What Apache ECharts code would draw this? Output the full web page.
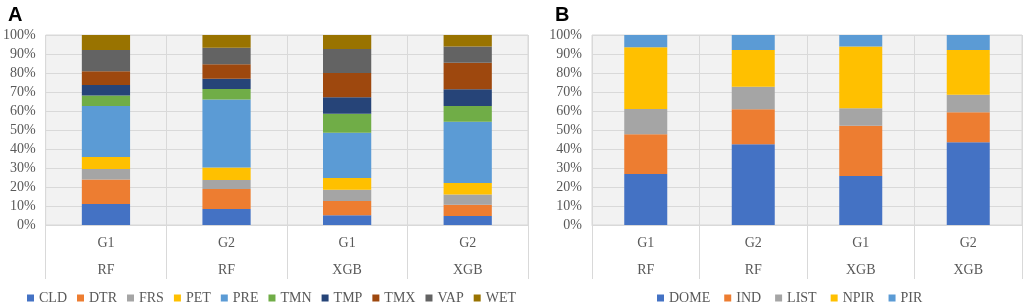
<!DOCTYPE html>
<html>
<head>
<meta charset="utf-8">
<script src="https://cdn.jsdelivr.net/npm/echarts@6/dist/echarts.min.js"></script>
<style>
  html, body { margin: 0; padding: 0; background: #fff; }
  #chart { width: 1024px; height: 305px; }
</style>
</head>
<body>
<div id="chart"></div>
<script>
// categories (two-level axis: group / model)
const groups = ['G1', 'G2', 'G1', 'G2'];
const models = ['RF', 'RF', 'XGB', 'XGB'];

// panel A - climate variables (%)
const varNames = ['CLD', 'DTR', 'FRS', 'PET', 'PRE', 'TMN', 'TMP', 'TMX', 'VAP', 'WET'];
const CLD = [11.0, 8.4, 5.1, 4.7];
const DTR = [13.0, 10.5, 7.5, 6.0];
const FRS = [5.5, 4.8, 6.0, 5.4];
const PET = [6.3, 6.5, 6.1, 6.0];
const PRE = [26.8, 35.8, 23.9, 32.3];
const TMN = [5.6, 5.6, 10.0, 8.2];
const TMP = [5.5, 5.4, 8.6, 8.8];
const TMX = [7.2, 7.6, 12.8, 14.0];
const VAP = [11.2, 8.7, 12.6, 8.5];
const WET = [7.9, 6.7, 7.4, 6.1];

// panel B - pathway categories (%)
const pathNames = ['DOME', 'IND', 'LIST', 'NPIR', 'PIR'];
const DOME = [26.8, 42.5, 25.8, 43.5];
const IND = [20.9, 18.4, 26.5, 15.8];
const LIST = [13.4, 11.9, 9.1, 9.3];
const NPIR = [32.4, 19.3, 32.5, 23.5];
const PIR = [6.5, 7.9, 6.1, 7.9];

const varData = [CLD, DTR, FRS, PET, PRE, TMN, TMP, TMX, VAP, WET];
const pathData = [DOME, IND, LIST, NPIR, PIR];

const varColors = ['#4472C4', '#ED7D31', '#A5A5A5', '#FFC000', '#5B9BD5', '#70AD47', '#264478', '#9E480E', '#636363', '#997300'];
const pathColors = ['#4472C4', '#ED7D31', '#A5A5A5', '#FFC000', '#5B9BD5'];

const labels = groups.map((g, i) => g + '\n' + models[i]);
const txt = '#595959';
const line = '#D9D9D9';
const serif = '"Liberation Serif", "Times New Roman", serif';

function xAx(idx) {
  return {
    type: 'category', gridIndex: idx, data: labels,
    axisLine: { show: true, lineStyle: { color: line } },
    axisTick: { show: true, length: 54, lineStyle: { color: line } },
    splitLine: { show: true, lineStyle: { color: line } },
    axisLabel: { color: txt, fontFamily: serif, fontSize: 14, lineHeight: 27, margin: 5 }
  };
}
function yAx(idx) {
  return {
    type: 'value', gridIndex: idx, min: 0, max: 100, interval: 10,
    axisLine: { show: false }, axisTick: { show: false },
    splitLine: { lineStyle: { color: line } },
    axisLabel: { color: txt, fontFamily: serif, fontSize: 14, margin: 10, formatter: '{value}%' }
  };
}

const series = [];
varNames.forEach((n, i) => series.push({
  name: n, type: 'bar', stack: 'a', xAxisIndex: 0, yAxisIndex: 0,
  barWidth: '40%', data: varData[i], itemStyle: { color: varColors[i] }
}));
pathNames.forEach((n, i) => series.push({
  name: n, type: 'bar', stack: 'b', xAxisIndex: 1, yAxisIndex: 1,
  barWidth: '40%', data: pathData[i], itemStyle: { color: pathColors[i] }
}));

const legendText = { color: txt, fontFamily: serif, fontSize: 14 };

const chart = echarts.init(document.getElementById('chart'));
chart.setOption({
  animation: false,
  title: [
    { text: 'A', left: 3, top: 0, textStyle: { fontSize: 20, fontWeight: 'bold', color: '#000', fontFamily: 'Liberation Sans, Arial' } },
    { text: 'B', left: 550, top: 0, textStyle: { fontSize: 20, fontWeight: 'bold', color: '#000', fontFamily: 'Liberation Sans, Arial' } }
  ],
  grid: [
    { left: 44, right: 496, top: 35, bottom: 80, show: true, backgroundColor: '#F2F2F2', borderColor: line, borderWidth: 1 },
    { left: 592, right: 2, top: 35, bottom: 80, show: true, backgroundColor: '#F2F2F2', borderColor: line, borderWidth: 1 }
  ],
  legend: [
    { data: varNames, left: 27, top: 291, padding: 0, icon: 'rect', itemWidth: 7, itemHeight: 7, itemGap: 10, textStyle: legendText },
    { data: pathNames, left: 657, top: 291, padding: 0, icon: 'rect', itemWidth: 7, itemHeight: 7, itemGap: 14, textStyle: legendText }
  ],
  xAxis: [xAx(0), xAx(1)],
  yAxis: [yAx(0), yAx(1)],
  series: series
});
</script>
</body>
</html>
